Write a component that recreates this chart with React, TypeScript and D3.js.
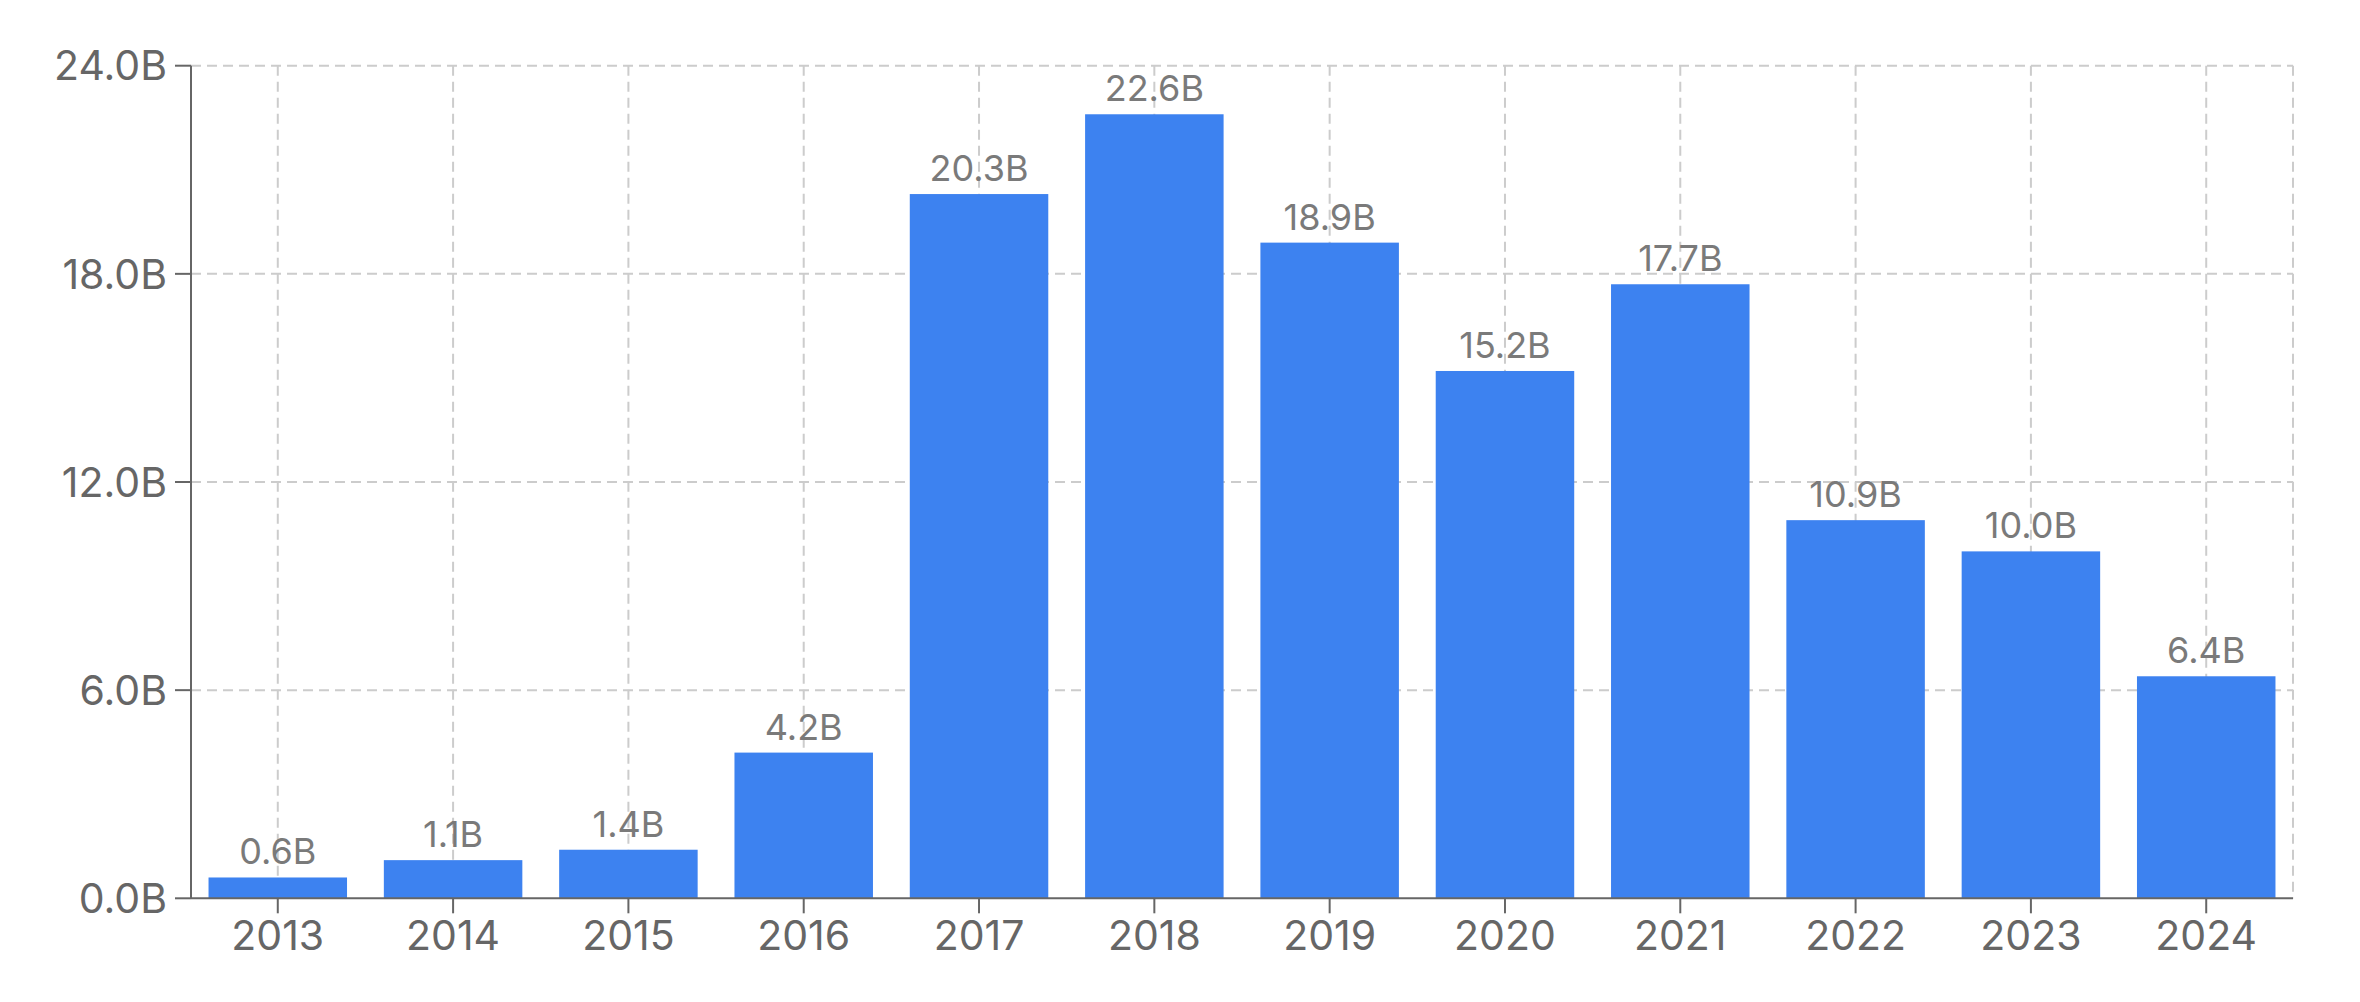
import React from "react";
import * as d3 from "d3";

const years = ["2013","2014","2015","2016","2017","2018","2019","2020","2021","2022","2023","2024"];
const values = [0.6, 1.1, 1.4, 4.2, 20.3, 22.6, 18.9, 15.2, 17.7, 10.9, 10.0, 6.4];
const yTicks = [0, 6, 12, 18, 24];

const W = 2360, H = 1002;
const M = { left: 191, right: 2293, top: 65.7, bottom: 898.3 };
const FONT = "Inter, 'Noto Sans', sans-serif";

export default function App() {
  const x = d3.scaleBand<string>().domain(years).range([M.left, M.right]).paddingInner(0.21).paddingOuter(0.1);
  const y = d3.scaleLinear().domain([0, 24]).range([M.bottom, M.top]);
  const fmt = (v: number) => v.toFixed(1) + "B";
  const grid = "#cccccc";
  const axis = "#666666";
  return (
    <svg width={W} height={H} style={{ position: "absolute", left: 0, top: 0, background: "#fff" }}>
      {/* horizontal grid */}
      {yTicks.filter(t => t > 0).map(t => (
        <line key={"hg" + t} x1={M.left} x2={M.right} y1={y(t)} y2={y(t)} stroke={grid} strokeWidth={2} strokeDasharray="10 6" />
      ))}
      {/* vertical grid */}
      {years.map(yr => {
        const cx = (x(yr) as number) + x.bandwidth() / 2;
        return <line key={"vg" + yr} x1={cx} x2={cx} y1={M.top} y2={M.bottom} stroke={grid} strokeWidth={2} strokeDasharray="10 6" />;
      })}
      <line x1={M.right} x2={M.right} y1={M.top} y2={M.bottom} stroke={grid} strokeWidth={2} strokeDasharray="10 6" />
      {/* bars */}
      {years.map((yr, i) => (
        <rect key={"b" + yr} x={x(yr)} y={y(values[i])} width={x.bandwidth()} height={y(0) - y(values[i])} fill="#3d82f0" />
      ))}
      {/* value labels */}
      {years.map((yr, i) => (
        <text key={"l" + yr} x={(x(yr) as number) + x.bandwidth() / 2} y={y(values[i]) - 13} textAnchor="middle"
          fontFamily={FONT} fontSize={36} fill="#7a7a7a">{fmt(values[i])}</text>
      ))}
      {/* axes */}
      <line x1={M.left} x2={M.left} y1={M.top} y2={M.bottom} stroke={axis} strokeWidth={2} />
      <line x1={M.left} x2={M.right} y1={M.bottom} y2={M.bottom} stroke={axis} strokeWidth={2} />
      {yTicks.map(t => (
        <g key={"yt" + t}>
          <line x1={M.left - 16} x2={M.left} y1={y(t)} y2={y(t)} stroke={axis} strokeWidth={2} />
          <text x={M.left - 24} y={y(t)} dy="0.36em" textAnchor="end" fontFamily={FONT} fontSize={41} fill={axis}>{fmt(t)}</text>
        </g>
      ))}
      {years.map(yr => {
        const cx = (x(yr) as number) + x.bandwidth() / 2;
        return (
          <g key={"xt" + yr}>
            <line x1={cx} x2={cx} y1={M.bottom} y2={M.bottom + 15} stroke={axis} strokeWidth={2} />
            <text x={cx} y={950} textAnchor="middle" fontFamily={FONT} fontSize={41} fill={axis}>{yr}</text>
          </g>
        );
      })}
    </svg>
  );
}
